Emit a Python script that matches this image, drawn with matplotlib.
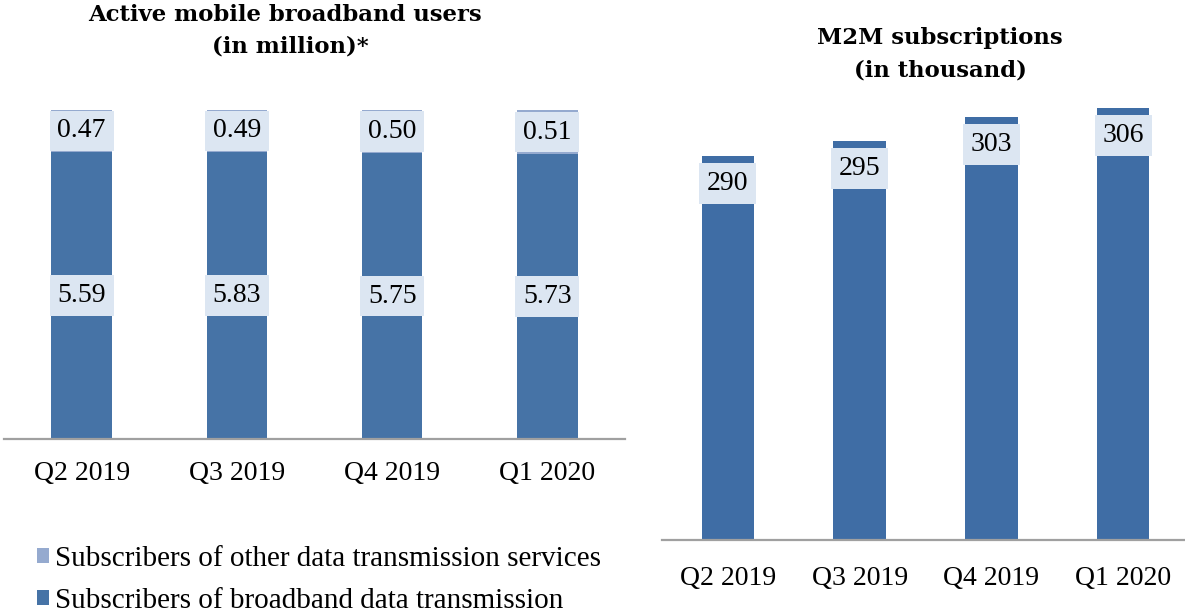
import matplotlib.pyplot as plt
import numpy as np

plt.rcParams['font.family'] = ['Liberation Serif', 'DejaVu Serif']

quarters = ['Q2 2019', 'Q3 2019', 'Q4 2019', 'Q1 2020']
broadband = [5.59, 5.83, 5.75, 5.73]
other = [0.47, 0.49, 0.50, 0.51]
m2m = [290, 295, 303, 306]

dark = '#4673A6'
dark2 = '#3F6DA5'
light = '#95AACF'
boxc = '#DCE6F2'
W, H = 1185, 613

fig = plt.figure(figsize=(11.85, 6.13), dpi=100)


def px_axes(x0, x1, ytop, ybot):
    return fig.add_axes([x0 / W, (H - ybot) / H, (x1 - x0) / W, (ybot - ytop) / H])


def clean(ax, pad):
    for s in ['top', 'right', 'left']:
        ax.spines[s].set_visible(False)
    ax.spines['bottom'].set_color('#A0A0A0')
    ax.spines['bottom'].set_linewidth(1.6)
    ax.set_yticks([])
    ax.tick_params(axis='x', length=0, labelsize=20, pad=pad)


def title(xc, ybase, s):
    fig.text(xc / W, 1 - ybase / H, s, ha='center', va='baseline',
             fontsize=16.4, fontweight='bold', family='DejaVu Serif')


bbox = dict(boxstyle='square,pad=0.28', fc=boxc, ec='none')
lbl = 20

# left: 100% stacked
ax1 = px_axes(4, 625, 110, 439)
x = np.arange(len(quarters))
tot = np.array(broadband) + np.array(other)
bb = np.array(broadband) / tot
ot = np.array(other) / tot
ymin = 0.39
b1 = ax1.bar(x, bb, 0.39, color=dark, label='Subscribers of broadband data transmission')
b2 = ax1.bar(x, ot, 0.39, bottom=bb, color=light, label='Subscribers of other data transmission services')
ax1.set_ylim(ymin, 1.0)
ax1.set_xlim(-0.5, 3.5)
for i in range(len(x)):
    ax1.text(x[i], (ymin + bb[i]) / 2, f'{broadband[i]:.2f}', ha='center', va='center',
             fontsize=lbl, bbox=bbox)
    ax1.text(x[i], bb[i] + ot[i] / 2, f'{other[i]:.2f}', ha='center', va='center',
             fontsize=lbl, bbox=bbox)
ax1.set_xticks(x)
ax1.set_xticklabels(quarters)
clean(ax1, 16)

title(285, 21, 'Active mobile broadband users')
title(290, 53, '(in million)*')

# right: M2M
ax2 = px_axes(662, 1189, 100, 540)
ax2.bar(x, m2m, 0.4, color=dark2)
ax2.set_ylim(162, 162 + 440 / 3.0)
ax2.set_xlim(-0.5, 3.5)
for i in range(len(x)):
    ax2.annotate(str(m2m[i]), (x[i], m2m[i]), xytext=(0, -20), textcoords='offset points',
                 ha='center', va='center', fontsize=lbl, bbox=bbox)
ax2.set_xticks(x)
ax2.set_xticklabels(quarters)
clean(ax2, 19)

title(940, 44, 'M2M subscriptions')
title(940, 77, '(in thousand)')

fig.legend(handles=[b2, b1], loc='upper left', bbox_to_anchor=(37 / W, 1 - 546 / H),
           frameon=False, fontsize=21, handlelength=0.41, handleheight=0.41,
           handletextpad=0.2, labelspacing=0.55, borderaxespad=0, borderpad=0)

fig.savefig('out.png', dpi=100)
